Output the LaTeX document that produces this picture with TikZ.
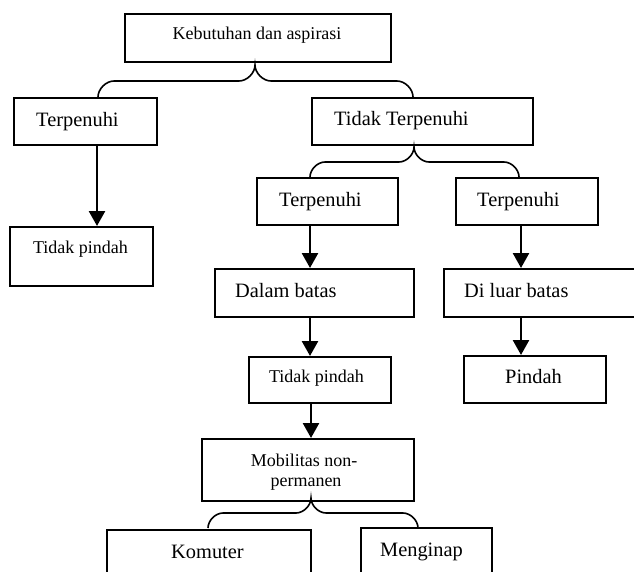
\documentclass[tikz,border=0pt]{standalone}
\usepackage{fontspec}
\setmainfont{Liberation Serif}
\usetikzlibrary{arrows.meta}
\tikzset{
  box/.style={draw, line width=1.8pt, inner sep=0pt, anchor=north west},
  arr/.style={line width=2.6pt, -{Triangle[width=16pt,length=15pt]}},
  brc/.style={line width=1.6pt},
  big/.style={font=\fontsize{20.4}{24}\selectfont, inner sep=0pt},
  small/.style={font=\fontsize{18}{20}\selectfont, inner sep=0pt},
}
\newcommand\mybrace[5]{%
  \pgfmathsetmacro\bym{(#4+#5)/2}%
  \pgfmathsetmacro\brr{(#5-#4)/2}%
  \pgfmathsetmacro\bk{0.5*\brr}%
  \draw[brc] (#1,#5) .. controls (#1,\bym+\bk) and (#1+\bk,\bym) .. (#1+\brr,\bym)
    -- (#2-\brr,\bym) .. controls (#2-\bk,\bym) and (#2,\bym-\bk) .. (#2,#4)
    .. controls (#2,\bym-\bk) and (#2+\bk,\bym) .. (#2+\brr,\bym)
    -- (#3-\brr,\bym) .. controls (#3-\bk,\bym) and (#3,\bym+\bk) .. (#3,#5);}
\begin{document}
\begin{tikzpicture}[x=1pt,y=-1pt]
\clip (0,0) rectangle (634,572);
% boxes
\node[box, minimum width=266pt, minimum height=48pt] (top) at (124,13) {};
\node[box, minimum width=143pt, minimum height=47pt] (tpL) at (13,97) {};
\node[box, minimum width=221pt, minimum height=47pt] (ttp) at (311,97) {};
\node[box, minimum width=141pt, minimum height=47pt] (tpM) at (256,177) {};
\node[box, minimum width=142pt, minimum height=47pt] (tpR) at (455,177) {};
\node[box, minimum width=143pt, minimum height=59pt] (tdpL) at (9,226) {};
\node[box, minimum width=199pt, minimum height=48pt] (dalam) at (214,268) {};
\node[box, minimum width=220pt, minimum height=48pt] (luar) at (443,268) {};
\node[box, minimum width=142pt, minimum height=46pt] (tdpM) at (248,356) {};
\node[box, minimum width=142pt, minimum height=47pt] (pindah) at (463,355) {};
\node[box, minimum width=212pt, minimum height=62pt] (mob) at (201,438) {};
\node[box, minimum width=204pt, minimum height=60pt] (kom) at (106,529) {};
\node[box, minimum width=131pt, minimum height=60pt] (meng) at (360,527) {};
% texts
\node[small, anchor=base] (t-top) at (257,40) {Kebutuhan dan aspirasi};
\node[big, anchor=base west] (t-tpL) at (36,127) {Terpenuhi};
\node[big, anchor=base west] (t-ttp) at (334,126) {Tidak Terpenuhi};
\node[big, anchor=base west] (t-tpM) at (279,207) {Terpenuhi};
\node[big, anchor=base west] (t-tpR) at (477,207) {Terpenuhi};
\node[small, anchor=base] (t-tdpL) at (80.5,253) {Tidak pindah};
\node[big, anchor=base west] (t-dalam) at (235,297) {Dalam batas};
\node[big, anchor=base west] (t-luar) at (464,297) {Di luar batas};
\node[small, anchor=base] (t-tdpM) at (316.5,382) {Tidak pindah};
\node[big, anchor=base] (t-pindah) at (533.5,383) {Pindah};
\node[small, anchor=base] (t-mob1) at (304,466) {Mobilitas non-};
\node[small, anchor=base] (t-mob2) at (306,486) {permanen};
\node[big, anchor=base] (t-kom) at (207.5,558) {Komuter};
\node[big, anchor=base] (t-meng) at (421.5,556) {Menginap};
% arrows
\coordinate (xL) at (97,0);
\coordinate (xM) at (310,0);
\coordinate (xM3) at (311,0);
\coordinate (xR) at (521,0);
\draw[arr] (tpL.south -| xL) -- (tdpL.north -| xL);
\draw[arr] (tpM.south -| xM) -- (dalam.north -| xM);
\draw[arr] (dalam.south -| xM) -- (tdpM.north -| xM);
\draw[arr] (tpR.south -| xR) -- (luar.north -| xR);
\draw[arr] (luar.south -| xR) -- (pindah.north -| xR);
\draw[arr] (tdpM.south -| xM3) -- (mob.north -| xM3);
% braces
\mybrace{98}{255}{413}{65}{97}
\mybrace{310}{414}{519}{147}{177}
\mybrace{208}{311}{418}{498}{528}
\end{tikzpicture}
\end{document}
